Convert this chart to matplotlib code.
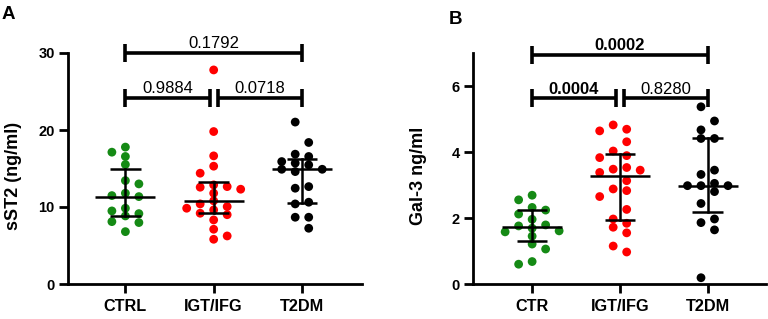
import matplotlib
matplotlib.use("Agg")
import matplotlib.pyplot as plt
import numpy as np

plt.rcParams['font.family'] = ['Liberation Sans', 'DejaVu Sans']

# ---------------- data ----------------
groups_a = ["CTRL", "IGT/IFG", "T2DM"]
groups_b = ["CTR", "IGT/IFG", "T2DM"]

a_ctrl = [17.78, 17.12, 16.56, 15.52, 13.43, 13.0, 11.79, 11.48, 11.35, 9.84, 9.49, 9.14, 8.84, 8.1, 7.98, 6.8]
a_igt = [27.8, 19.8, 16.64, 15.3, 14.39, 12.87, 12.65, 12.57, 12.31, 11.79, 10.8, 10.4, 10.05, 9.84,
         9.62, 9.19, 9.0, 8.32, 7.11, 6.24, 5.81]
a_t2dm = [21.03, 18.38, 16.86, 16.56, 15.9, 15.7, 15.47, 14.9, 14.9, 14.6, 12.65, 12.44, 10.62, 10.4,
          8.67, 8.67, 7.24]

b_ctr = [2.69, 2.55, 2.32, 2.24, 2.12, 1.96, 1.79, 1.76, 1.69, 1.61, 1.58, 1.45, 1.21, 1.06, 0.68, 0.60]
b_igt = [4.82, 4.69, 4.64, 4.31, 4.03, 3.89, 3.83, 3.53, 3.48, 3.45, 3.38, 3.13, 2.88, 2.83, 2.65,
         2.26, 1.97, 1.84, 1.72, 1.55, 1.15, 0.97]
b_t2dm = [5.37, 4.94, 4.67, 4.41, 4.41, 3.45, 3.32, 3.05, 2.98, 2.98, 2.98, 2.80, 2.44, 1.97, 1.86,
          1.64, 0.19]

a_median = [11.35, 10.83, 14.9]
a_q1 = [8.88, 9.28, 10.49]
a_q3 = [14.95, 13.26, 16.2]

b_median = [1.72, 3.27, 2.98]
b_q1 = [1.29, 1.93, 2.19]
b_q3 = [2.24, 3.93, 4.42]

a_pvals = ["0.9884", "0.0718", "0.1792"]
b_pvals = ["0.0004", "0.8280", "0.0002"]
b_pbold = [True, False, True]
a_bracket_y = [24.2, 24.2, 30.0]
b_bracket_y = [5.63, 5.63, 6.94]

a_yticks = [0, 10, 20, 30]
b_yticks = [0, 2, 4, 6]

colors = ["#158a15", "#ff0000", "#000000"]

# ---------------- layout ----------------
W, H = 768, 319
fig = plt.figure(figsize=(W / 100, H / 100), dpi=100)

rect_a = [68 / W, 35 / H, 294 / W, 231 / H]
rect_b = [473.3 / W, 35 / H, 292.4 / W, 231 / H]


def swarm_offsets(vals, parity_even, step, px_x, px_y, mind_px=7.6):
    order = np.argsort(vals)[::-1]
    placed = []  # (col, value)
    cols = np.zeros(len(vals))
    for i in order:
        v = vals[i]
        if parity_even:
            base = [0.5 + k for k in range(6)]
        else:
            base = [0] + [k for k in range(1, 6)]
        cands = []
        for b in base:
            if b == 0:
                cands.append(0)
            else:
                nl = sum(1 for c, _ in placed if c < 0)
                nr = sum(1 for c, _ in placed if c > 0)
                if nl <= nr:
                    cands += [-b, b]
                else:
                    cands += [b, -b]
        for c in cands:
            ok = True
            for pc, pv in placed:
                dx = (c - pc) * step * px_x
                dy = (v - pv) * px_y
                if np.hypot(dx, dy) < mind_px:
                    ok = False
                    break
            if ok:
                placed.append((c, v))
                cols[i] = c
                break
    return cols * step


def panel(rect, data, medians, q1s, q3s, labels, ylim, yticks, ylabel,
          pvals, pbold, bracket_y, parities, xlim):
    ax = fig.add_axes(rect)
    ax.set_xlim(*xlim)
    ax.set_ylim(*ylim)
    ax_w_px = rect[2] * W
    ax_h_px = rect[3] * H
    px_x = ax_w_px / (xlim[1] - xlim[0])
    px_y = ax_h_px / (ylim[1] - ylim[0])
    step = 13.5 / px_x
    for i, vals in enumerate(data):
        offs = swarm_offsets(np.array(vals), parities[i], step, px_x, px_y)
        ax.scatter(i + offs, vals, s=40, color=colors[i], edgecolors='none', zorder=3,
                   clip_on=False)
    for i in range(len(data)):
        ax.plot([i - 0.34, i + 0.34], [medians[i]] * 2, color='black', lw=1.8, zorder=4,
                solid_capstyle='butt')
        ax.plot([i, i], [q1s[i], q3s[i]], color='black', lw=1.8, zorder=4)
        for q in (q1s[i], q3s[i]):
            ax.plot([i - 0.175, i + 0.175], [q, q], color='black', lw=1.8, zorder=4,
                    solid_capstyle='butt')
    # brackets
    tick_h = 9.0 / px_y
    gap = 0.045
    spans = [(0, 1 - gap), (1 + gap, 2), (0, 2)]
    for (x0, x1), txt, bold, yb in zip(spans, pvals, pbold, bracket_y):
        ax.plot([x0, x1], [yb, yb], color='black', lw=2.6, clip_on=False, zorder=5,
                solid_capstyle='butt')
        for xx in (x0, x1):
            ax.plot([xx, xx], [yb - tick_h, yb + tick_h], color='black', lw=2.6,
                    clip_on=False, zorder=5, solid_capstyle='butt')
        ax.annotate(txt, xy=((x0 + x1) / 2, yb), xytext=(0, 3.3), textcoords='offset points',
                    ha='center', va='baseline', fontsize=12,
                    fontweight='bold' if bold else 'normal', annotation_clip=False)
    ax.set_xticks(range(len(labels)))
    ax.set_xticklabels(labels, fontsize=11.7, fontweight='bold')
    ax.set_yticks(yticks)
    ax.set_yticklabels([str(t) for t in yticks], fontsize=10.5, fontweight='bold')
    for s in ('top', 'right'):
        ax.spines[s].set_visible(False)
    for s in ('left', 'bottom'):
        ax.spines[s].set_linewidth(2.0)
    ax.tick_params(axis='both', width=2.0, length=6.5)
    ax.tick_params(axis='x', pad=4.5)
    ax.tick_params(axis='y', pad=3)
    ax.set_ylabel(ylabel, fontsize=13, fontweight='bold')
    ax.yaxis.set_label_coords(-46 / ax_w_px, 0.467)
    return ax


panel(rect_a, [a_ctrl, a_igt, a_t2dm], a_median, a_q1, a_q3, groups_a, (0, 30), a_yticks,
      "sST2 (ng/ml)", a_pvals, [False, False, False], a_bracket_y, [False, False, True],
      (-0.65, 2.68))
panel(rect_b, [b_ctr, b_igt, b_t2dm], b_median, b_q1, b_q3, groups_b, (0, 7), b_yticks,
      "Gal-3 ng/ml", b_pvals, b_pbold, b_bracket_y, [False, True, True],
      (-0.67, 2.66))

fig.text(2 / W, 1 - 6 / H, "A", fontsize=13.5, fontweight='bold', ha='left', va='top')
fig.text(449 / W, 1 - 11 / H, "B", fontsize=13.5, fontweight='bold', ha='left', va='top')

fig.savefig("out.png", dpi=100)
